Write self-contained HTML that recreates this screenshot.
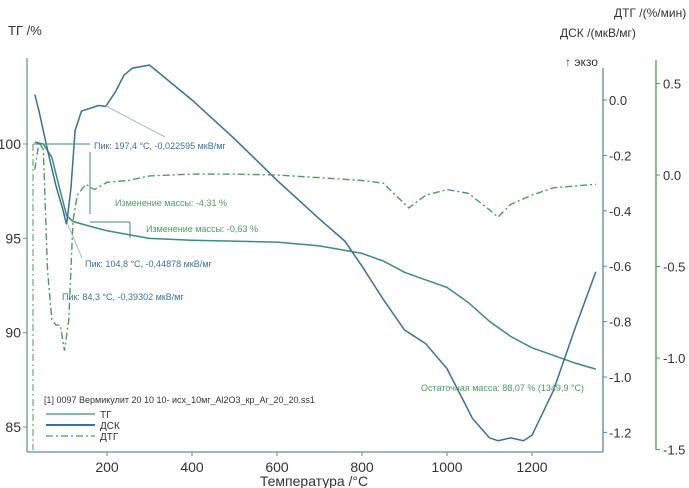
<!DOCTYPE html>
<html><head><meta charset="utf-8"><style>
body{margin:0;background:#fff;}
svg{display:block;font-family:"Liberation Sans",sans-serif;}
</style></head><body>
<svg id="chart" width="689" height="488" viewBox="0 0 689 488" xmlns="http://www.w3.org/2000/svg">
<g id="axes"></g><g id="series"></g><g id="annot"></g>
</svg>
<script>
const xTicks=[200,400,600,800,1000,1200];
const tgTicks=[85,90,95,100];
const dscTicks=[0.0,-0.2,-0.4,-0.6,-0.8,-1.0,-1.2];
const dtgTicks=[0.5,0.0,-0.5,-1.0,-1.5];
const tgT=[30,50,70,90,105,120,150,200,250,300,400,600,700,800,850,900,950,1000,1050,1100,1150,1200,1250,1300,1350];
const tgV=[100.1,100.0,99.3,97.5,96.2,95.9,95.7,95.4,95.2,95.0,94.9,94.8,94.6,94.2,93.8,93.2,92.8,92.4,91.6,90.6,89.8,89.2,88.8,88.4,88.07];
const dscT=[30,40,60,80,95,105,115,125,140,180,197,220,240,260,300,400,500,600,700,760,800,850,900,950,1000,1030,1060,1100,1120,1150,1180,1200,1250,1300,1350];
const dscV=[0.02,-0.04,-0.18,-0.31,-0.39,-0.449,-0.32,-0.11,-0.04,-0.02,-0.023,0.03,0.09,0.115,0.126,0.0,-0.14,-0.29,-0.43,-0.51,-0.60,-0.72,-0.83,-0.88,-0.97,-1.06,-1.15,-1.22,-1.23,-1.22,-1.23,-1.21,-1.05,-0.83,-0.62];
const dtgT=[30,40,50,60,70,80,90,100,110,120,130,150,170,200,250,300,400,500,600,700,800,850,910,950,1000,1050,1100,1120,1150,1200,1250,1300,1350];
const dtgV=[0.03,0.18,0.14,-0.52,-0.79,-0.82,-0.82,-0.96,-0.79,-0.25,-0.11,-0.05,-0.08,-0.04,-0.03,-0.005,0.005,0.005,0.0,-0.015,-0.03,-0.045,-0.18,-0.11,-0.08,-0.1,-0.19,-0.23,-0.16,-0.11,-0.07,-0.06,-0.05];

const X=t=>22+t*0.425;
const YTG=v=>144+(100-v)*18.87;
const YDSC=v=>100-v*277;
const YDTG=v=>175-v*183;
const NS="http://www.w3.org/2000/svg";
function mk(tag,attrs,parent,text){const e=document.createElementNS(NS,tag);for(const k in attrs)e.setAttribute(k,attrs[k]);if(text!==undefined)e.textContent=text;document.getElementById(parent).appendChild(e);return e;}
const tgC="#3f8b78",dscC="#3b6f9c",dtgC="#4f9a62";

let a;
a=mk('line',{x1:27,y1:58,x2:27,y2:452,stroke:"#6a9a88","stroke-width":1.3},'axes');

a=mk('line',{x1:27,y1:452,x2:603,y2:452,stroke:"#6a8a9a","stroke-width":1.3},'axes');

a=mk('line',{x1:603,y1:68,x2:603,y2:452,stroke:"#5b86aa","stroke-width":1.3},'axes');

a=mk('line',{x1:656,y1:60,x2:656,y2:450,stroke:"#4f9a62","stroke-width":1.3},'axes');

xTicks.forEach(t=>{mk('line',{x1:X(t),y1:452,x2:X(t),y2:456,stroke:"#6a8a9a"},'axes');
 a=mk('text',{x:X(t),y:472,"font-size":14,"text-anchor":"middle",fill:"#333"},'axes',t);
 });
tgTicks.forEach(v=>{mk('line',{x1:23,y1:YTG(v),x2:27,y2:YTG(v),stroke:"#6a9a88"},'axes');
 a=mk('text',{x:21,y:YTG(v)+5,"font-size":14,"text-anchor":"end",fill:"#333"},'axes',v);
 });
dscTicks.forEach(v=>{mk('line',{x1:603,y1:YDSC(v),x2:607,y2:YDSC(v),stroke:"#5b86aa"},'axes');
 a=mk('text',{x:609,y:YDSC(v)+5,"font-size":13,fill:"#333"},'axes',v.toFixed(1));
 });
dtgTicks.forEach(v=>{mk('line',{x1:656,y1:YDTG(v),x2:660,y2:YDTG(v),stroke:"#4f9a62"},'axes');
 a=mk('text',{x:663,y:YDTG(v)+5,"font-size":13,fill:"#333"},'axes',v.toFixed(1));
 });
a=mk('text',{x:8,y:35,"font-size":13,fill:"#333"},'axes','ТГ /%');
a=mk('text',{x:314,y:486,"font-size":14,"text-anchor":"middle",fill:"#333"},'axes','Температура /°C');
a=mk('text',{x:560,y:37,"font-size":12,fill:"#333"},'axes','ДСК /(мкВ/мг)');
a=mk('text',{x:614,y:17,"font-size":12,fill:"#333"},'axes','ДТГ /(%/мин)');
a=mk('text',{x:565,y:66,"font-size":12,fill:"#333"},'axes','↑ экзо');

function path(T,V,Y){return T.map((t,i)=>(i?'L':'M')+X(t).toFixed(1)+','+Y(V[i]).toFixed(1)).join(' ');}
a=mk('path',{d:path(tgT,tgV,YTG),fill:"none",stroke:tgC,"stroke-width":1.5},'series');
a=mk('path',{d:path(dscT,dscV,YDSC),fill:"none",stroke:dscC,"stroke-width":1.5},'series');
a=mk('path',{d:path(dtgT,dtgV,YDTG),fill:"none",stroke:dtgC,"stroke-width":1.4,"stroke-dasharray":"7,3,2,3"},'series');
mk('line',{x1:33,y1:144,x2:33,y2:450,stroke:dtgC,"stroke-dasharray":"7,3,2,3"},'series');
mk('line',{x1:33,y1:144,x2:90,y2:144,stroke:tgC},'annot');
mk('line',{x1:90,y1:152,x2:90,y2:214,stroke:tgC},'annot');
mk('line',{x1:90,y1:222,x2:130,y2:222,stroke:tgC},'annot');
mk('line',{x1:130,y1:222,x2:130,y2:238,stroke:tgC},'annot');
mk('line',{x1:106,y1:106,x2:165,y2:137,stroke:"#aab8c8"},'annot');
mk('line',{x1:68,y1:225,x2:82,y2:258,stroke:"#aab8c8"},'annot');
const notes=[[94,149,'Пик: 197,4 °C, -0,022595 мкВ/мг',dscC],[115,206,'Изменение массы: -4,31 %',dtgC],[146,232,'Изменение массы: -0,63 %',dtgC],[85,267,'Пик: 104,8 °C, -0,44878 мкВ/мг',dscC],[62,300,'Пик: 84,3 °C, -0,39302 мкВ/мг',dscC],[421,391,'Остаточная масса: 88,07 % (1349,9 °C)',dtgC],[44,403,'[1] 0097 Вермикулит 20 10 10- исх_10мг_Al2O3_кр_Ar_20_20.ss1','#333']];
notes.forEach(n=>{a=mk('text',{x:n[0],y:n[1],"font-size":9,fill:n[3]},'annot',n[2]);});
const leg=[['ТГ',tgC,''],['ДСК',dscC,''],['ДТГ',dtgC,'7,3,2,3']];
leg.forEach((l,i)=>{const y=414+i*11;mk('line',{x1:46,y1:y,x2:95,y2:y,stroke:l[1],"stroke-width":i==1?2:1.2,"stroke-dasharray":l[2]||'none'},'annot');
 a=mk('text',{x:100,y:y+4,"font-size":10,fill:"#333"},'annot',l[0]);});
</script>
</body></html>
